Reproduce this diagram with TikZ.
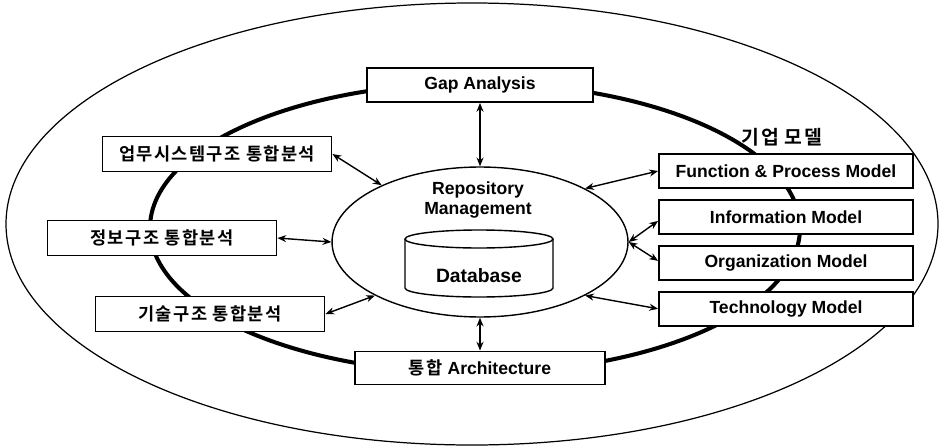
\documentclass[tikz,border=0pt]{standalone}
\usepackage{fontspec}
\setmainfont{Liberation Sans}
\newfontfamily\kr{Noto Sans CJK KR}[BoldFont={Noto Sans CJK KR Bold}, LetterSpace=8]
\usetikzlibrary{shapes.geometric, positioning, arrows.meta}
\tikzset{
x=0.02cm, y=0.02cm, % one unit is one pixel of the scanned figure
>={Stealth[length=5pt, width=4pt]}, % filled heads for all the links
node distance=0.2cm, % gap between the stacked model boxes
box/.style={draw, fill=white, line width=1.1pt, inner sep=0pt, font=\bfseries\fontsize{10}{12}\selectfont}, % every labelled rectangle
anabox/.style={box, minimum width=4.58cm, minimum height=0.7cm}, % the three analysis boxes on the left
modelbox/.style={box, minimum width=5.08cm, minimum height=0.68cm}, % the enterprise model stack on the right
ringline/.style={line width=2.3pt}, % the thick cycle behind the boxes
twoway/.style={<->, line width=0.8pt}, % double headed links to the repository
}

\begin{document}
\begin{tikzpicture}
        \useasboundingbox (0,0) rectangle (945,447);
        %% the big outer boundary and the thick cycle go first, so the boxes cover them
        \draw[line width=0.7pt] (472,223) ellipse [x radius=466, y radius=221];
        \draw[ringline] (475,219) ellipse [x radius=325, y radius=145];
        %% repository in the middle
        \node[ellipse, draw, fill=white, line width=0.8pt, inner sep=0pt, minimum width=5.92cm, minimum height=3cm] (repo) at (480,205) {};
        \node[font=\bfseries\fontsize{10}{11}\selectfont, align=center] (repotxt) at (478,247) {Repository\\Management};
        %% the database drum
        \draw[line width=0.8pt] (405,208) -- (405,159) arc[start angle=180, end angle=360, x radius=74, y radius=9] -- (553,208);
        \draw[line width=0.8pt] (479,208) ellipse [x radius=74, y radius=9];
        \node[font=\bfseries\fontsize{11}{13}\selectfont] (db) at (479,171) {Database};
        %% top and bottom boxes
        \node[box, minimum width=4.52cm, minimum height=0.68cm] (gap) at (480,362) {Gap Analysis};
        \node[box, minimum width=5cm, minimum height=0.66cm] (arch) at (480,79) {{\kr 통합} Architecture};
        %% analysis boxes on the left
        \node[anabox] (biz) at (217,293) {\kr 업무시스템구조 통합분석};
        \node[anabox] (info) at (162,209) {\kr 정보구조 통합분석};
        \node[anabox] (tech) at (210,133) {\kr 기술구조 통합분석};
        %% enterprise model stack on the right
        \node[modelbox] (fpm) at (786,276) {Function \& Process Model};
        \node[modelbox, below=of fpm] (im) {Information Model};
        \node[modelbox, below=of im] (om) {Organization Model};
        \node[modelbox, below=of om] (tm) {Technology Model};
        \node[font=\bfseries\fontsize{11}{13}\selectfont] (emodel) at (782,310) {\kr 기업 모델};
        %% links
        \draw[twoway] (gap.south) -- (repo.north);
        \draw[twoway] (arch.north) -- (repo.south);
        \draw[twoway] (biz.east) -- (repo.150);
        \draw[twoway] (info.east) -- (repo.west);
        \draw[twoway] (tech.east) -- (repo.207);
        \draw[twoway] (fpm.west) -- (repo.27);
        \draw[twoway] ([yshift=-0.08cm]im.west) -- (repo.east);
        \draw[twoway] ([yshift=0.04cm]om.west) -- (repo.east);
        \draw[twoway] (tm.west) -- (repo.333);
\end{tikzpicture}
\end{document}
